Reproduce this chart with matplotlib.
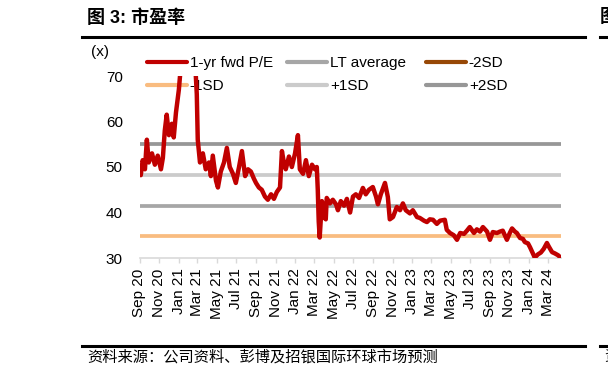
import matplotlib
matplotlib.use("Agg")
import matplotlib.pyplot as plt
from matplotlib.lines import Line2D
import pandas as pd

plt.rcParams['font.family'] = ['Liberation Sans', 'Noto Sans CJK SC', 'DejaVu Sans']

# ---------------- data ----------------
pe_dates = [
    "2020-09-05", "2020-09-11", "2020-09-18", "2020-09-24", "2020-09-30", "2020-10-10",
    "2020-10-19", "2020-10-28", "2020-11-07", "2020-11-13", "2020-11-19", "2020-11-25",
    "2020-12-02", "2020-12-11", "2020-12-17", "2020-12-24", "2021-01-02", "2021-01-08",
    "2021-01-21", "2021-02-05", "2021-02-21", "2021-02-27", "2021-03-02", "2021-03-09",
    "2021-03-18", "2021-03-27", "2021-04-06", "2021-04-12", "2021-04-18", "2021-04-28",
    "2021-05-04", "2021-05-13", "2021-05-23", "2021-06-01", "2021-06-10", "2021-06-20",
    "2021-06-29", "2021-07-09", "2021-07-18", "2021-07-28", "2021-08-06", "2021-08-15",
    "2021-08-24", "2021-08-31", "2021-09-09", "2021-09-18", "2021-09-28", "2021-10-07",
    "2021-10-17", "2021-10-26", "2021-11-04", "2021-11-14", "2021-11-20", "2021-11-26",
    "2021-12-02", "2021-12-12", "2021-12-21", "2021-12-31", "2022-01-09", "2022-01-15",
    "2022-01-25", "2022-02-03", "2022-02-12", "2022-02-22", "2022-03-03", "2022-03-09",
    "2022-03-12", "2022-03-15", "2022-03-18", "2022-03-25", "2022-03-31", "2022-04-06",
    "2022-04-09", "2022-04-19", "2022-04-28", "2022-05-08", "2022-05-14", "2022-05-23",
    "2022-06-02", "2022-06-11", "2022-06-21", "2022-06-30", "2022-07-09", "2022-07-19",
    "2022-07-31", "2022-08-09", "2022-08-19", "2022-08-31", "2022-09-10", "2022-09-16",
    "2022-09-25", "2022-10-08", "2022-10-17", "2022-10-23", "2022-11-02", "2022-11-14",
    "2022-11-24", "2022-12-03", "2022-12-12", "2022-12-25", "2023-01-03", "2023-01-16",
    "2023-01-25", "2023-02-07", "2023-02-16", "2023-02-25", "2023-03-07", "2023-03-19",
    "2023-03-29", "2023-04-13", "2023-04-19", "2023-04-29", "2023-05-11", "2023-05-21",
    "2023-05-31", "2023-06-12", "2023-06-21", "2023-06-30", "2023-07-13", "2023-07-22",
    "2023-08-01", "2023-08-10", "2023-08-23", "2023-09-01", "2023-09-10", "2023-09-23",
    "2023-10-02", "2023-10-11", "2023-10-24", "2023-11-02", "2023-11-09", "2023-11-18",
    "2023-11-24", "2023-12-04", "2023-12-13", "2023-12-19", "2023-12-29", "2024-01-04",
    "2024-01-13", "2024-01-19", "2024-01-29", "2024-02-07", "2024-02-16", "2024-02-26",
    "2024-03-03", "2024-03-13", "2024-03-22", "2024-04-01", "2024-04-07",
]
pe_values = [
    48.2, 51.5, 49.5, 56.0, 51.0, 53.0,
    50.5, 52.5, 49.5, 52.0, 58.0, 61.5,
    57.0, 59.5, 56.5, 62.0, 67.0, 72.0,
    76.0, 78.0, 74.0, 66.0, 56.0, 51.0,
    53.0, 49.5, 51.0, 48.0, 52.5, 47.0,
    45.5, 49.0, 51.0, 54.2, 50.0, 48.5,
    46.5, 50.0, 53.5, 48.0, 49.5, 49.0,
    47.5, 46.5, 45.5, 45.0, 43.5, 42.8,
    44.0, 43.0, 44.5, 45.5, 53.5, 51.0,
    49.5, 52.3, 50.0, 53.0, 57.0, 49.5,
    48.5, 51.5, 48.0, 50.5, 49.5, 50.0,
    45.0, 38.0, 34.5, 42.5, 39.0, 38.5,
    43.2, 42.0, 42.8, 41.8, 40.5, 42.5,
    41.5, 43.0, 40.0, 43.5, 44.0, 43.2,
    45.4, 44.0, 45.0, 45.6, 43.5, 41.8,
    44.0, 46.5, 43.4, 38.5, 39.0, 41.2,
    40.5, 42.0, 40.5, 39.8, 40.5, 39.0,
    38.8, 38.2, 37.9, 38.5, 38.4, 37.5,
    38.2, 38.4, 36.2, 35.5, 35.0, 34.0,
    35.5, 35.3, 36.0, 36.8, 35.5, 36.3,
    35.8, 36.8, 35.8, 34.0, 35.7, 35.5,
    35.8, 36.0, 34.0, 35.5, 36.5, 35.8,
    35.5, 34.4, 34.2, 33.5, 33.2, 32.4,
    31.0, 30.1, 30.8, 31.2, 32.0, 33.3,
    32.5, 31.3, 31.0, 30.6, 30.2,
]

lt_average = 41.5
plus_1sd = 48.25
plus_2sd = 55.0
minus_1sd = 34.75
minus_2sd = 28.0

tick_labels = ["Sep 20", "Nov 20", "Jan 21", "Mar 21", "May 21", "Jul 21", "Sep 21",
               "Nov 21", "Jan 22", "Mar 22", "May 22", "Jul 22", "Sep 22", "Nov 22",
               "Jan 23", "Mar 23", "May 23", "Jul 23", "Sep 23", "Nov 23", "Jan 24",
               "Mar 24"]
y_ticks = [30, 40, 50, 60, 70]

title_text = "图 3: 市盈率"
source_text = "资料来源：公司资料、彭博及招银国际环球市场预测"

# ---------------- figure ----------------
W, H = 608, 381
fig = plt.figure(figsize=(W / 100, H / 100), dpi=100)

def fx(px):
    return px / W

def fy(py):
    return 1 - py / H

ax = fig.add_axes([fx(139.5), fy(258), fx(561) - fx(139.5), fy(76) - fy(258)])

dates = pd.to_datetime(pe_dates)
x_start = pd.Timestamp("2020-09-01")
x_end = pd.Timestamp("2024-04-10")

c_red = '#C00000'
c_lt = '#A6A6A6'
c_m2 = '#974806'
c_m1 = '#F9BC80'
c_p1 = '#CBCBCB'
c_p2 = '#979797'

band_lw = 2.7
for val, col in [(plus_2sd, c_p2), (plus_1sd, c_p1), (lt_average, c_lt),
                 (minus_1sd, c_m1), (minus_2sd, c_m2)]:
    ax.plot([x_start, x_end], [val, val], color=col, lw=band_lw,
            solid_capstyle='round', zorder=2)

ax.plot(dates, pe_values, color=c_red, lw=3.2, zorder=4,
        solid_joinstyle='round', solid_capstyle='round')

ax.set_xlim(x_start, x_end)
ax.set_ylim(30, 70)

tick_pos = pd.date_range("2020-09-01", periods=len(tick_labels), freq="2MS")
ax.set_xticks(tick_pos)
ax.set_xticklabels(tick_labels, rotation=90, fontsize=11)
ax.set_yticks(y_ticks)
ax.set_yticklabels([str(v) for v in y_ticks], fontsize=11)

for s in ['top', 'right', 'left']:
    ax.spines[s].set_visible(False)
ax.spines['bottom'].set_color('#D9D9D9')
ax.spines['bottom'].set_linewidth(1.2)
ax.tick_params(axis='x', length=3.5, width=1.0, color='#D9D9D9', pad=4)
ax.tick_params(axis='y', length=0, pad=12)
ax.set_facecolor('none')

# legends: three columns
def make_leg(entries, x_px):
    handles = [Line2D([0], [0], color=c, lw=3.0, solid_capstyle='round') for c, _ in entries]
    labels = [l for _, l in entries]
    leg = ax.legend(handles, labels, loc='upper left',
                    bbox_to_anchor=(fx(x_px), fy(56)), bbox_transform=fig.transFigure,
                    frameon=False, fontsize=11, handlelength=2.6, handletextpad=0.2,
                    borderpad=0, borderaxespad=0, labelspacing=0.62)
    leg.set_zorder(1)
    return leg

leg1 = make_leg([(c_red, '1-yr fwd P/E'), (c_m1, '-1SD')], 147)
ax.add_artist(leg1)
leg2 = make_leg([(c_lt, 'LT average'), (c_p1, '+1SD')], 287)
ax.add_artist(leg2)
leg3 = make_leg([(c_m2, '-2SD'), (c_p2, '+2SD')], 426)

fig.text(fx(100), fy(52), "(x)", fontsize=11, ha='center', va='center')

# header / footer
fig.text(fx(87), fy(18), title_text, fontsize=13, fontweight='bold',
         ha='left', va='center')
fig.text(fx(600), fy(18), "图", fontsize=13, fontweight='bold', ha='left', va='center')
fig.add_artist(Line2D([fx(82), fx(585)], [fy(37), fy(37)], color='black', lw=2.2,
                      transform=fig.transFigure))
fig.add_artist(Line2D([fx(600), fx(608)], [fy(37), fy(37)], color='black', lw=2.2,
                      transform=fig.transFigure))
fig.add_artist(Line2D([fx(82), fx(585)], [fy(346), fy(346)], color='black', lw=2.2,
                      transform=fig.transFigure))
fig.add_artist(Line2D([fx(600), fx(608)], [fy(346), fy(346)], color='black', lw=2.2,
                      transform=fig.transFigure))
fig.text(fx(87), fy(357), source_text, fontsize=11, ha='left', va='center')
fig.text(fx(604), fy(357), "资", fontsize=11, ha='left', va='center')

fig.savefig("out.png", dpi=100)
